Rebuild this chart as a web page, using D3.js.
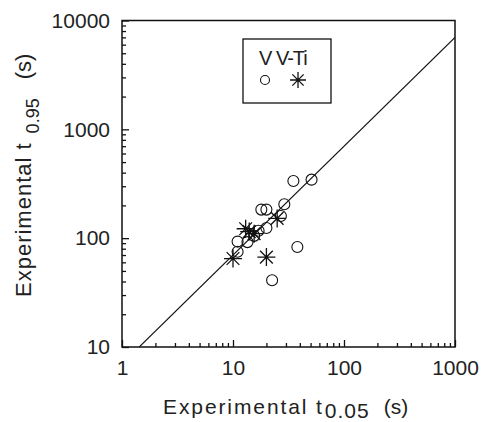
<!DOCTYPE html>
<html>
<head>
<meta charset="utf-8">
<script src="https://cdn.jsdelivr.net/npm/d3@7"></script>
<style>
  body { margin: 0; background: #fff; }
  svg { display: block; font-family: "Liberation Sans", Arial, sans-serif; }
</style>
</head>
<body>
<svg id="chart" width="482" height="422"></svg>
<script>
// V samples: t0.05 / t0.95 (s)
const vT05 = [35, 51, 29, 18, 20, 27, 20, 15.5, 13.5, 11, 11, 38, 22.5, 17];
const vT95 = [335, 345, 205, 183, 183, 160, 124, 105, 92, 93, 75, 83, 41, 117];

// V-Ti samples
const vtiT05 = [10, 20, 14, 15.5, 13, 25];
const vtiT95 = [65, 67, 115, 110, 122, 152];

// reference line t0.95 = 7 * t0.05
const lineT05 = [1.43, 1000];
const lineT95 = [10, 7000];

const xTicks = [1, 10, 100, 1000];
const yTicks = [10, 100, 1000, 10000];

const drawChart = function(){
    let svg = d3.select('#chart');
    let left = 122, right = 455, top = 20.5, bottom = 347;

    let x = d3.scaleLog().domain([1, 1000]).range([left, right]);
    let y = d3.scaleLog().domain([10, 10000]).range([bottom, top]);

    let minor = function(dom){
        let out = [];
        for(let d = dom[0]; d < dom[1]; d *= 10){
            for(let k = 2; k <= 9; k++) out.push(d * k);
        }
        return out;
    };

    svg.append('clipPath').attr('id', 'clip')
        .append('rect')
        .attr('x', left).attr('y', top)
        .attr('width', right - left).attr('height', bottom - top);

    // minor ticks
    svg.append('g')
        .attr('transform', 'translate(0,' + bottom + ')')
        .call(d3.axisBottom(x).tickValues(minor([1, 1000])).tickSize(-4).tickFormat(''))
        .call(g => g.select('.domain').remove());
    svg.append('g')
        .attr('transform', 'translate(' + left + ',0)')
        .call(d3.axisLeft(y).tickValues(minor([10, 10000])).tickSize(-4).tickFormat(''))
        .call(g => g.select('.domain').remove());

    // major ticks + labels
    let xAxis = svg.append('g')
        .attr('transform', 'translate(0,' + bottom + ')')
        .call(d3.axisBottom(x).tickValues(xTicks).tickSize(-7).tickPadding(13).tickFormat(d3.format('d')));
    let yAxis = svg.append('g')
        .attr('transform', 'translate(' + left + ',0)')
        .call(d3.axisLeft(y).tickValues(yTicks).tickSize(-7).tickPadding(12).tickFormat(d3.format('d')));

    [xAxis, yAxis].forEach(function(a){
        a.select('.domain').remove();
        a.selectAll('text').attr('font-size', 21).attr('fill', '#222').attr('font-family', null);
    });
    svg.selectAll('.tick line').attr('stroke', '#111').attr('stroke-width', 1.3);

    // frame
    svg.append('rect')
        .attr('x', left).attr('y', top)
        .attr('width', right - left).attr('height', bottom - top)
        .attr('fill', 'none').attr('stroke', '#111').attr('stroke-width', 1.5);

    // diagonal
    svg.append('line')
        .attr('clip-path', 'url(#clip)')
        .attr('x1', x(lineT05[0])).attr('y1', y(lineT95[0]))
        .attr('x2', x(lineT05[1])).attr('y2', y(lineT95[1]))
        .attr('stroke', '#111').attr('stroke-width', 1.1);

    let starPath = function(r){
        let p = '';
        for(let i = 0; i < 4; i++){
            let a = i * Math.PI / 4;
            let dx = r * Math.cos(a), dy = r * Math.sin(a);
            p += 'M' + (-dx) + ',' + (-dy) + 'L' + dx + ',' + dy;
        }
        return p;
    };

    let vData = vT05.map(function(d, i){ return {x: d, y: vT95[i]} });
    let tiData = vtiT05.map(function(d, i){ return {x: d, y: vtiT95[i]} });

    svg.selectAll('circle.v')
        .data(vData)
        .enter()
        .append('circle')
        .attr('class', 'v')
        .attr('cx', function(d){ return x(d.x) })
        .attr('cy', function(d){ return y(d.y) })
        .attr('r', 5.5)
        .attr('fill', 'none')
        .attr('stroke', '#111')
        .attr('stroke-width', 1.1);

    svg.selectAll('path.vti')
        .data(tiData)
        .enter()
        .append('path')
        .attr('class', 'vti')
        .attr('transform', function(d){ return 'translate(' + x(d.x) + ',' + y(d.y) + ')' })
        .attr('d', starPath(9))
        .attr('stroke', '#111')
        .attr('stroke-width', 1.3);

    // legend
    let lg = svg.append('g');
    lg.append('rect')
        .attr('x', 243).attr('y', 39).attr('width', 88).attr('height', 64)
        .attr('fill', '#fff').attr('stroke', '#111').attr('stroke-width', 1.3);
    lg.append('text')
        .attr('x', 259).attr('y', 65)
        .attr('font-size', 20).attr('letter-spacing', -1).attr('fill', '#222')
        .text('V V-Ti');
    lg.append('circle')
        .attr('cx', 265).attr('cy', 80).attr('r', 4.5)
        .attr('fill', 'none').attr('stroke', '#111').attr('stroke-width', 1.1);
    lg.append('path')
        .attr('transform', 'translate(298,80)')
        .attr('d', starPath(8))
        .attr('stroke', '#111').attr('stroke-width', 1.3);

    // axis titles
    let xt = svg.append('text')
        .attr('x', 163).attr('y', 414)
        .attr('font-size', 21).attr('fill', '#222');
    xt.append('tspan').attr('letter-spacing', 1.9).text('Experimental t');
    xt.append('tspan').attr('dx', 1).attr('dy', 4).attr('letter-spacing', 1).text('0.05');
    xt.append('tspan').attr('dx', 14).attr('dy', -4).text('(s)');

    let yt = svg.append('text')
        .attr('transform', 'translate(31,297) rotate(-90)')
        .attr('font-size', 22).attr('fill', '#222');
    yt.append('tspan').attr('letter-spacing', 1).text('Experimental t');
    yt.append('tspan').attr('dx', 9).attr('dy', 8).attr('font-size', 18).text('0.95');
    yt.append('tspan').attr('dx', 19).attr('dy', -8).text('(s)');
};

drawChart();
</script>
</body>
</html>
